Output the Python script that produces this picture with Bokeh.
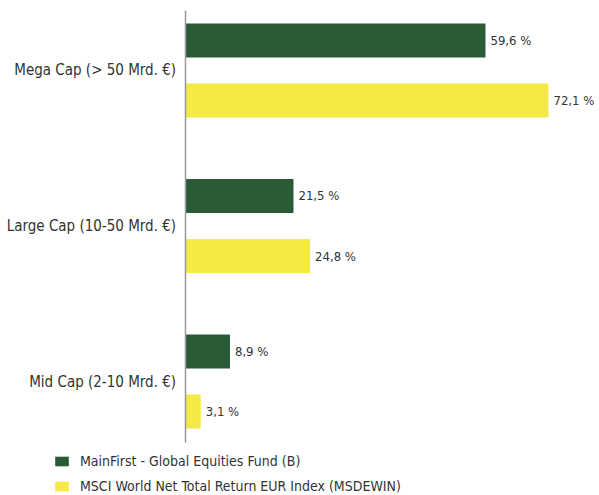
from bokeh.plotting import figure
from bokeh.models import ColumnDataSource, Range1d, FixedTicker, Legend, LegendItem, LinearAxis
from bokeh.core.properties import value
from bokeh.embed import file_html
from bokeh.resources import INLINE

categories = ["Mega Cap (> 50 Mrd. €)", "Large Cap (10-50 Mrd. €)", "Mid Cap (2-10 Mrd. €)"]
series_names = ["MainFirst - Global Equities Fund (B)", "MSCI World Net Total Return EUR Index (MSDEWIN)"]
fund_values = [59.6, 21.5, 8.9]
index_values = [72.1, 24.8, 3.1]

GREEN = "#2a5b37"
YELLOW = "#f5e946"
TEXT = "#333333"
FONT = "DejaVu Sans Condensed"

pos = list(range(len(categories)))
off = 0.193
bar_h = 0.219

def fmt(v):
    return f"{v:.1f}".replace(".", ",") + " %"

src_f = ColumnDataSource(dict(y=[i - off for i in pos], v=fund_values, lab=[fmt(v) for v in fund_values]))
src_i = ColumnDataSource(dict(y=[i + off for i in pos], v=index_values, lab=[fmt(v) for v in index_values]))

p = figure(width=599, height=495, output_backend="svg", toolbar_location=None,
           x_range=Range1d(-36.63, 82.22), y_range=Range1d(2.733, -0.450),
           x_axis_location=None, y_axis_location=None, min_border=0)
p.outline_line_color = None
p.grid.visible = False

r1 = p.hbar(y="y", left=0, right="v", height=bar_h, source=src_f, fill_color=GREEN, line_color=None)
r2 = p.hbar(y="y", left=0, right="v", height=bar_h, source=src_i, fill_color=YELLOW, line_color=None)

for s in (src_f, src_i):
    p.text(x="v", y="y", text="lab", source=s, x_offset=5, text_baseline="middle", text_align="left",
           text_font=value(FONT), text_font_size="13px", text_color=TEXT)

ya = LinearAxis(fixed_location=0, bounds=(-60 / 155.5, 2 + 61 / 155.5))
ya.ticker = FixedTicker(ticks=pos)
ya.major_label_overrides = {i: c for i, c in zip(pos, categories)}
ya.major_tick_line_color = None
ya.minor_tick_line_color = None
ya.axis_line_color = "#999999"
ya.axis_line_width = 1.5
ya.major_label_text_font = FONT
ya.major_label_text_font_size = "15px"
ya.major_label_text_color = TEXT
ya.major_label_standoff = 3
p.add_layout(ya, "left")

legend = Legend(items=[LegendItem(label=series_names[0], renderers=[r1]),
                       LegendItem(label=series_names[1], renderers=[r2])],
                location=(53, 0), orientation="vertical",
                glyph_width=17, glyph_height=12, label_height=18, spacing=7,
                padding=0, margin=0, border_line_color=None, background_fill_alpha=0,
                label_text_font=FONT, label_text_font_size="14px", label_text_color=TEXT,
                label_standoff=10)
p.add_layout(legend, "center")

open("out.html", "w").write(file_html(p, INLINE))
